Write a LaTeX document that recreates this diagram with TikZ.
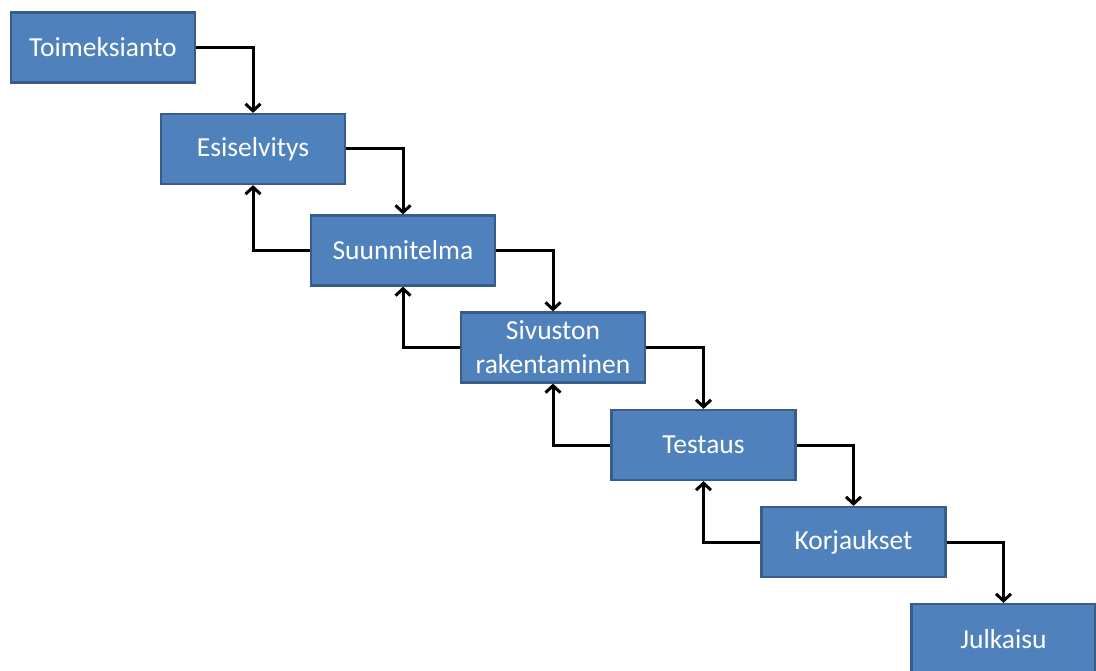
\documentclass[tikz,border=0pt]{standalone}
\usepackage{fontspec}
\setmainfont{Carlito}
\usetikzlibrary{arrows.meta}
\definecolor{boxfill}{HTML}{4F81BD}
\definecolor{boxline}{HTML}{385D8A}
\begin{document}
\begin{tikzpicture}[x=1pt,y=-1pt,
  stepbox/.style={draw=boxline, line width=2.2pt, fill=boxfill, minimum width=184pt, minimum height=70pt,
    inner sep=0pt, text=white, align=center, font=\fontsize{27.5}{34}\selectfont},
  conn/.style={draw=black, line width=3pt, -{Straight Barb[length=7pt,width=15pt,line width=3pt]}}]
\useasboundingbox (0,0) rectangle (1096,671);
\begin{scope}
\clip (0,0) rectangle (1096,671);
\node[stepbox] (a) at (103,47.5) {Toimeksianto};
\node[stepbox] (b) at (253,149) {Esiselvitys};
\node[stepbox] (c) at (403,250.5) {Suunnitelma};
\node[stepbox] (d) at (553,347.5) {Sivuston\\rakentaminen};
\node[stepbox] (e) at (703.5,445) {Testaus};
\node[stepbox] (f) at (853.5,542) {Korjaukset};
\node[stepbox] (g) at (1003.5,639) {Julkaisu};
\end{scope}
\foreach \u/\v in {a/b,b/c,c/d,d/e,e/f,f/g}{
  \draw[conn] (\u.east) -| (\v.north);
}
\foreach \u/\v in {c/b,d/c,e/d,f/e}{
  \draw[conn] (\u.west) -| (\v.south);
}
\end{tikzpicture}
\end{document}
